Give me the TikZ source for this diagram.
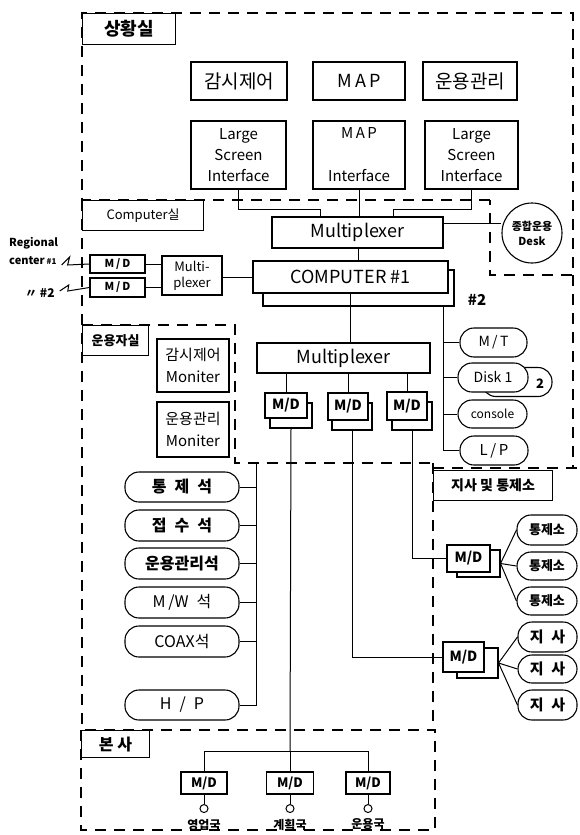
\documentclass[tikz,border=0pt]{standalone}
\usepackage{fontspec}
\setmainfont{Noto Sans CJK KR}
\usetikzlibrary{positioning, calc}
\newcommand{\fsz}[1]{\fontsize{#1}{#1}\selectfont}

\begin{document}
\begin{tikzpicture}[x=1pt, y=-1pt,
    every node/.style={inner sep=1pt},
    bx/.style={draw, line width=1.1pt, fill=white, align=center},
    pill/.style={draw, line width=1.1pt, fill=white, rounded corners=14pt, align=center},
    mdbox/.style={bx, font=\fsz{11}\bfseries},
    shadowbox/.style={draw, line width=1.1pt, fill=white},
    lbl/.style={draw, line width=1.1pt, anchor=north west, font=\fsz{16}\bfseries},
    room/.style={line width=1.1pt, dash pattern=on 11pt off 8pt},
    wire/.style={line width=1pt}]
  \useasboundingbox (0,0) rectangle (580,835);

  % rooms
  \draw[room] (490,200) -- (82,200) -- (82,13) -- (573,13) -- (573,275) -- (490,275) -- cycle;
  \draw[room] (82,200) -- (82,730);
  \draw[room] (82,325) -- (235,325) -- (235,463) -- (433,463);
  \draw[room] (573,275) -- (573,468);
  \draw[room] (433,463) -- (433,730);
  \draw[room] (433,468) -- (578,468);
  \draw[room] (81,730) rectangle (435,830);
  \node[lbl, minimum width=93, minimum height=31, font=\fsz{18}\bfseries] (sanghwang) at (82,13) {상황실};
  \node[lbl, minimum width=121, minimum height=30, font=\fsz{13}] (comproom) at (82,200) {Computer실};
  \node[lbl, minimum width=66, minimum height=30, font=\fsz{13}\bfseries] (oproom) at (82,325) {운용자실};
  \node[lbl, minimum width=119, minimum height=30, font=\fsz{14}\bfseries] (jisaroom) at (433,470) {지사 및 통제소};
  \node[lbl, minimum width=68, minimum height=27] (bonsa) at (81,730) {본 사};

  % 상황실
  \node[bx, minimum width=96, minimum height=38, font=\fsz{19}] (gamsi) at (239,81) {감시제어};
  \node[bx, minimum width=92, minimum height=38, font=\fsz{18}] (map) at (359,81) {M\,A\,P};
  \node[bx, minimum width=94, minimum height=38, font=\fsz{19}] (unyong) at (470,81) {운용관리};
  \node[bx, minimum width=95, minimum height=68, font=\fontsize{15}{21}\selectfont] (lsia) at (238.5,155) {Large\\Screen\\Interface};
  \node[bx, minimum width=92, minimum height=68, font=\fontsize{15}{21}\selectfont] (mapif) at (359,155) {M\,A\,P\\[22pt]Interface};
  \node[bx, minimum width=93, minimum height=68, font=\fontsize{15}{21}\selectfont] (lsib) at (471.5,155) {Large\\Screen\\Interface};
  \node[bx, minimum width=171, minimum height=31, font=\fsz{18}] (muxtop) at (357.5,232.5) {Multiplexer};
  \node[draw, circle, line width=1.1pt, minimum size=60, align=center, font=\fontsize{11}{15}\selectfont\bfseries] (desk) at (532,233) {종합운용\\Desk};

  \draw[wire] (lsia.south) -- ++(0,20) -| (320,217);
  \draw[wire] (lsib.south) -- ++(0,20) -| (393,217);
  \draw[wire] (mapif.south) -- (mapif.south |- muxtop.north);
  \draw[wire] (muxtop.east |- 0,223) -- (desk.west |- 0,223);

  % computer
  \node[shadowbox, minimum width=191, minimum height=36] (comptwo) at (358.5,288) {};
  \node[bx, minimum width=195, minimum height=32, font=\fsz{18}] (compone) at (350.5,277) {COMPUTER \#1};
  \node[font=\fsz{15}\bfseries] (comptwolbl) at (477,300) {\#2};
  \draw[wire] (muxtop.south -| 358,0) -- (compone.north -| 358,0);

  % regional centers
  \node[mdbox, minimum width=55, minimum height=18] (mdrega) at (117.5,264) {M\,/\,D};
  \node[mdbox, minimum width=55, minimum height=19] (mdregb) at (117.5,287.5) {M\,/\,D};
  \node[bx, minimum width=60, minimum height=39, font=\fontsize{13}{16}\selectfont] (muxreg) at (192,275.5) {Multi-\\plexer};
  \node[font=\fsz{11}\bfseries, anchor=west] (regname) at (8,243) {Regional};
  \node[font=\fsz{11}\bfseries, anchor=west] (rega) at (8,261) {center\,{\fsz{8}\#1}};
  \node[font=\fsz{12}\bfseries, anchor=west] (regb) at (24,293) {〃\ \#2};
  \draw[wire] (rega.east) ++(4,4) -- ++(8,-8) -- ++(-2,8) -- (mdrega.west);
  \draw[wire] (regb.east) ++(4,-2) -- ++(9,-6) -- ++(-1,6) -- (mdregb.west);
  \draw[wire] (mdrega.east) -- (mdrega.east -| muxreg.west);
  \draw[wire] (mdregb.east) -- (mdregb.east -| muxreg.west);
  \draw[wire] (muxreg.east |- 0,277) -- (compone.west |- 0,277);

  % devices
  \node[pill, minimum width=67, minimum height=29, font=\fsz{14}] (mt) at (493.5,342.5) {M\,/\,T};
  \node[pill, minimum width=70, minimum height=29] (disktwo) at (517,382) {};
  \node[pill, minimum width=70, minimum height=29, font=\fsz{14}] (diskone) at (493,377.5) {Disk 1};
  \node[font=\fsz{13}\bfseries] (disktwolbl) at (540,384) {2};
  \node[pill, minimum width=69, minimum height=28, font=\fsz{12}] (console) at (492.5,414) {console};
  \node[pill, minimum width=68, minimum height=29, font=\fsz{15}] (lp) at (494,450.5) {L\,/\,P};
  \draw[wire] (comptwo.south -| 443,0) |- (lp.west);
  \draw[wire] (443,0 |- mt.west) -- (mt.west);
  \draw[wire] (443,0 |- diskone.west) -- (diskone.west);
  \draw[wire] (443,0 |- console.west) -- (console.west);
  \draw[wire] (compone.south -| 350,0) -- (350,343);

  % lower multiplexer and M/D
  \node[bx, minimum width=173, minimum height=30, font=\fsz{18}] (muxlow) at (343.5,358) {Multiplexer};
  \node[shadowbox, minimum width=42, minimum height=25] (mdashd) at (291,415.5) {};
  \node[mdbox, minimum width=42, minimum height=25, font=\fsz{14}\bfseries] (mda) at (286,405.5) {M/D};
  \node[shadowbox, minimum width=40, minimum height=27] (mdbshd) at (352,416.5) {};
  \node[mdbox, minimum width=40, minimum height=27, font=\fsz{14}\bfseries] (mdb) at (348,406.5) {M/D};
  \node[shadowbox, minimum width=40, minimum height=28] (mdcshd) at (412,416) {};
  \node[mdbox, minimum width=40, minimum height=28, font=\fsz{14}\bfseries] (mdc) at (407,406) {M/D};
  \draw[wire] (muxlow.south -| mda.north) -- (mda.north);
  \draw[wire] (muxlow.south -| mdb.north) -- (mdb.north);
  \draw[wire] (muxlow.south -| mdc.north) -- (mdc.north);

  % 운용자실
  \node[bx, minimum width=72, minimum height=53, font=\fontsize{15}{22}\selectfont] (monga) at (193,365.5) {감시제어\\Moniter};
  \node[bx, minimum width=72, minimum height=55, font=\fontsize{15}{22}\selectfont] (monun) at (193,429.5) {운용관리\\Moniter};
  \node[pill, minimum width=114, minimum height=30, font=\fsz{16}\bfseries] (tongje) at (182,487) {통\enspace 제\enspace 석};
  \node[pill, minimum width=114, minimum height=31, font=\fsz{16}\bfseries] (jeopsu) at (182,525.5) {접\enspace 수\enspace 석};
  \node[pill, minimum width=114, minimum height=31, font=\fsz{16}\bfseries] (ungwan) at (182,563.5) {운용관리석};
  \node[pill, minimum width=114, minimum height=31, font=\fsz{16}] (mw) at (182,602.5) {M\,/W\enspace 석};
  \node[pill, minimum width=114, minimum height=31, font=\fsz{16}] (coax) at (182,641.5) {COAX석};
  \node[pill, minimum width=114, minimum height=30, font=\fsz{16}] (hp) at (182,705) {H\enspace /\enspace P};
  \coordinate (busop) at (256,463);
  \draw[wire] (busop) |- (hp.east);
  \foreach \st in {tongje, jeopsu, ungwan, mw, coax}
    \draw[wire] (\st.east) -- (\st.east -| busop);

  % 지사 및 통제소
  \node[shadowbox, minimum width=43, minimum height=27] (mdtshd) at (478.5,563.5) {};
  \node[mdbox, minimum width=43, minimum height=27, font=\fsz{14}\bfseries] (mdt) at (468.5,558.5) {M/D};
  \node[pill, minimum width=60, minimum height=30, font=\fsz{13}\bfseries] (tca) at (547,530) {통제소};
  \node[pill, minimum width=60, minimum height=28, font=\fsz{13}\bfseries] (tcb) at (547,566) {통제소};
  \node[pill, minimum width=60, minimum height=28, font=\fsz{13}\bfseries] (tcc) at (547,601) {통제소};
  \node[shadowbox, minimum width=41, minimum height=30] (mdjshd) at (477.5,663) {};
  \node[mdbox, minimum width=41, minimum height=30, font=\fsz{14}\bfseries] (mdj) at (463.5,657) {M/D};
  \node[pill, minimum width=59, minimum height=30, font=\fsz{15}\bfseries] (jsa) at (547.5,637) {지\enspace 사};
  \node[pill, minimum width=59, minimum height=28, font=\fsz{15}\bfseries] (jsb) at (547.5,669) {지\enspace 사};
  \node[pill, minimum width=59, minimum height=30, font=\fsz{15}\bfseries] (jsc) at (547.5,705) {지\enspace 사};
  \draw[wire] (mdcshd.south) |- (mdt.west);
  \draw[wire] (mdbshd.south) |- (mdj.west);
  \foreach \pl in {tca, tcb, tcc}
    \draw[wire] (mdtshd.east) -- (\pl.west);
  \foreach \pl in {jsa, jsb, jsc}
    \draw[wire] (mdjshd.east) -- (\pl.west);

  % 본사
  \node[mdbox, minimum width=46, minimum height=22, font=\fsz{13}\bfseries] (mdya) at (204,783) {M/D};
  \node[mdbox, minimum width=47, minimum height=22, font=\fsz{13}\bfseries] (mdyb) at (290,783) {M/D};
  \node[mdbox, minimum width=44, minimum height=22, font=\fsz{13}\bfseries] (mdyc) at (368,783) {M/D};
  \draw[wire] (mdashd.south) -- (290,751);
  \draw[wire] (mdya.north) |- (290,751) -| (mdyc.north);
  \draw[wire] (290,751) -- (mdyb.north);
  \foreach \md/\nm/\txt in {mdya/yeong/영업국, mdyb/gye/계획국, mdyc/un/운용국} {
    \node[draw, circle, line width=1pt, minimum size=8, inner sep=0pt, fill=white] (\nm dot) at ($(\md.south)+(0,14)$) {};
    \draw[wire] (\md.south) -- (\nm dot.north);
    \node[font=\fsz{12}\bfseries] (\nm) at ($(\md.south)+(0,30)$) {\txt};
  }
\end{tikzpicture}
\end{document}
